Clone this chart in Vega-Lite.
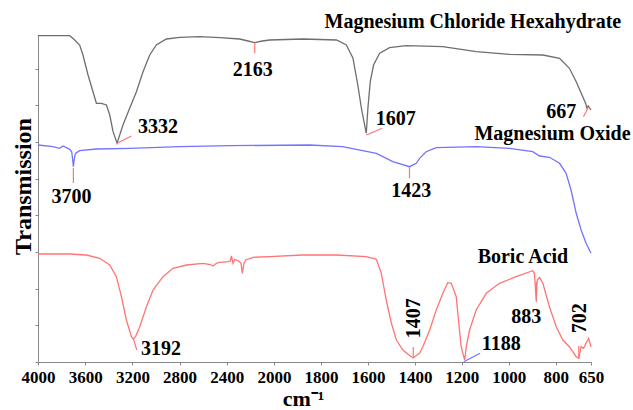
{
  "$schema": "https://vega.github.io/schema/vega-lite/v6.json",
  "width": 553,
  "height": 327,
  "autosize": {"type": "none"},
  "padding": {"left": 38, "top": 35, "right": 42, "bottom": 48},
  "background": "white",
  "config": {"view": {"stroke": null}, "font": "Liberation Serif", "axis": {"grid": false}},
  "datasets": {
    "spectra": [
      {"s":"MgCl2","wn":4000,"t":326.3},{"s":"MgCl2","wn":3731,"t":326.3},{"s":"MgCl2","wn":3689,"t":322},{"s":"MgCl2","wn":3647,"t":317},{"s":"MgCl2","wn":3619,"t":307},{"s":"MgCl2","wn":3576,"t":287},{"s":"MgCl2","wn":3534,"t":270.3},{"s":"MgCl2","wn":3505,"t":258.7},{"s":"MgCl2","wn":3463,"t":258.7},{"s":"MgCl2","wn":3420,"t":257},{"s":"MgCl2","wn":3392,"t":247},{"s":"MgCl2","wn":3364,"t":230.3},{"s":"MgCl2","wn":3330,"t":218.7},{"s":"MgCl2","wn":3280,"t":237},{"s":"MgCl2","wn":3223,"t":253.7},{"s":"MgCl2","wn":3166,"t":270.3},{"s":"MgCl2","wn":3110,"t":290.3},{"s":"MgCl2","wn":3053,"t":307},{"s":"MgCl2","wn":2997,"t":317},{"s":"MgCl2","wn":2912,"t":323},{"s":"MgCl2","wn":2799,"t":324.7},{"s":"MgCl2","wn":2630,"t":325.3},{"s":"MgCl2","wn":2460,"t":324.3},{"s":"MgCl2","wn":2291,"t":323},{"s":"MgCl2","wn":2220,"t":321},{"s":"MgCl2","wn":2163,"t":319.3},{"s":"MgCl2","wn":2100,"t":321},{"s":"MgCl2","wn":2036,"t":322},{"s":"MgCl2","wn":1878,"t":323},{"s":"MgCl2","wn":1734,"t":322},{"s":"MgCl2","wn":1692,"t":317},{"s":"MgCl2","wn":1664,"t":304},{"s":"MgCl2","wn":1643,"t":277},{"s":"MgCl2","wn":1628,"t":254},{"s":"MgCl2","wn":1607,"t":228.7},{"s":"MgCl2","wn":1600,"t":254},{"s":"MgCl2","wn":1590,"t":280.3},{"s":"MgCl2","wn":1576,"t":297},{"s":"MgCl2","wn":1550,"t":308.7},{"s":"MgCl2","wn":1508,"t":314.3},{"s":"MgCl2","wn":1437,"t":316.3},{"s":"MgCl2","wn":1281,"t":315.3},{"s":"MgCl2","wn":1139,"t":310.3},{"s":"MgCl2","wn":997,"t":307.7},{"s":"MgCl2","wn":855,"t":307},{"s":"MgCl2","wn":784,"t":303.7},{"s":"MgCl2","wn":742,"t":293.7},{"s":"MgCl2","wn":713,"t":280.3},{"s":"MgCl2","wn":685,"t":265.3},{"s":"MgCl2","wn":672,"t":258},{"s":"MgCl2","wn":667,"t":254},{"s":"MgCl2","wn":662,"t":256},{"s":"MgCl2","wn":650,"t":252},
      {"s":"MgO","wn":4000,"t":217},{"s":"MgO","wn":3873,"t":215.3},{"s":"MgO","wn":3816,"t":213.7},{"s":"MgO","wn":3788,"t":216},{"s":"MgO","wn":3731,"t":212.7},{"s":"MgO","wn":3714,"t":210},{"s":"MgO","wn":3706,"t":202},{"s":"MgO","wn":3700,"t":195.3},{"s":"MgO","wn":3694,"t":202},{"s":"MgO","wn":3686,"t":207},{"s":"MgO","wn":3680,"t":208.7},{"s":"MgO","wn":3647,"t":211.3},{"s":"MgO","wn":3505,"t":213},{"s":"MgO","wn":3223,"t":213.7},{"s":"MgO","wn":2799,"t":215.3},{"s":"MgO","wn":2375,"t":216.3},{"s":"MgO","wn":1848,"t":217},{"s":"MgO","wn":1708,"t":215.3},{"s":"MgO","wn":1564,"t":208.7},{"s":"MgO","wn":1494,"t":200.3},{"s":"MgO","wn":1423,"t":195.3},{"s":"MgO","wn":1394,"t":198.7},{"s":"MgO","wn":1380,"t":203.7},{"s":"MgO","wn":1352,"t":210.3},{"s":"MgO","wn":1309,"t":214.3},{"s":"MgO","wn":1139,"t":215.3},{"s":"MgO","wn":997,"t":213.7},{"s":"MgO","wn":898,"t":210.3},{"s":"MgO","wn":869,"t":206},{"s":"MgO","wn":827,"t":204.7},{"s":"MgO","wn":784,"t":198.7},{"s":"MgO","wn":756,"t":188.7},{"s":"MgO","wn":735,"t":172},{"s":"MgO","wn":713,"t":148.7},{"s":"MgO","wn":692,"t":132},{"s":"MgO","wn":671,"t":118.7},{"s":"MgO","wn":650,"t":108.7},
      {"s":"Boric","wn":4000,"t":108},{"s":"Boric","wn":3731,"t":108},{"s":"Boric","wn":3590,"t":107},{"s":"Boric","wn":3477,"t":103.7},{"s":"Boric","wn":3392,"t":97},{"s":"Boric","wn":3336,"t":85.3},{"s":"Boric","wn":3293,"t":65.3},{"s":"Boric","wn":3251,"t":42},{"s":"Boric","wn":3208,"t":25.3},{"s":"Boric","wn":3192,"t":23},{"s":"Boric","wn":3175,"t":25},{"s":"Boric","wn":3138,"t":35.3},{"s":"Boric","wn":3081,"t":55.3},{"s":"Boric","wn":3025,"t":72},{"s":"Boric","wn":2941,"t":85.3},{"s":"Boric","wn":2856,"t":93.7},{"s":"Boric","wn":2742,"t":97},{"s":"Boric","wn":2602,"t":98.7},{"s":"Boric","wn":2540,"t":97.5},{"s":"Boric","wn":2517,"t":96},{"s":"Boric","wn":2490,"t":98.5},{"s":"Boric","wn":2474,"t":99.3},{"s":"Boric","wn":2390,"t":100.3},{"s":"Boric","wn":2370,"t":101},{"s":"Boric","wn":2361,"t":106},{"s":"Boric","wn":2347,"t":98.7},{"s":"Boric","wn":2333,"t":102.7},{"s":"Boric","wn":2305,"t":101.3},{"s":"Boric","wn":2280,"t":99},{"s":"Boric","wn":2268,"t":88.7},{"s":"Boric","wn":2256,"t":98},{"s":"Boric","wn":2240,"t":102},{"s":"Boric","wn":2178,"t":104.7},{"s":"Boric","wn":2036,"t":105.3},{"s":"Boric","wn":1878,"t":107},{"s":"Boric","wn":1734,"t":107},{"s":"Boric","wn":1607,"t":105.3},{"s":"Boric","wn":1564,"t":102.7},{"s":"Boric","wn":1543,"t":88.7},{"s":"Boric","wn":1522,"t":62},{"s":"Boric","wn":1500,"t":38.7},{"s":"Boric","wn":1479,"t":22},{"s":"Boric","wn":1451,"t":12},{"s":"Boric","wn":1420,"t":6},{"s":"Boric","wn":1407,"t":4},{"s":"Boric","wn":1394,"t":6.5},{"s":"Boric","wn":1380,"t":8.7},{"s":"Boric","wn":1366,"t":15.3},{"s":"Boric","wn":1337,"t":32},{"s":"Boric","wn":1309,"t":52},{"s":"Boric","wn":1281,"t":68.7},{"s":"Boric","wn":1260,"t":79.3},{"s":"Boric","wn":1245,"t":78.7},{"s":"Boric","wn":1224,"t":65.3},{"s":"Boric","wn":1213,"t":38.7},{"s":"Boric","wn":1203,"t":15.3},{"s":"Boric","wn":1188,"t":2},{"s":"Boric","wn":1181,"t":15.3},{"s":"Boric","wn":1167,"t":32},{"s":"Boric","wn":1139,"t":52},{"s":"Boric","wn":1096,"t":68.7},{"s":"Boric","wn":1040,"t":78.7},{"s":"Boric","wn":969,"t":85.3},{"s":"Boric","wn":898,"t":91.3},{"s":"Boric","wn":891,"t":88.7},{"s":"Boric","wn":883,"t":62},{"s":"Boric","wn":879,"t":82},{"s":"Boric","wn":869,"t":84.7},{"s":"Boric","wn":855,"t":78.7},{"s":"Boric","wn":827,"t":55.3},{"s":"Boric","wn":798,"t":35.3},{"s":"Boric","wn":770,"t":22},{"s":"Boric","wn":742,"t":15.3},{"s":"Boric","wn":713,"t":5.3},{"s":"Boric","wn":702,"t":3.7},{"s":"Boric","wn":692,"t":15.3},{"s":"Boric","wn":682,"t":13.7},{"s":"Boric","wn":671,"t":18.7},{"s":"Boric","wn":660,"t":23.7},{"s":"Boric","wn":650,"t":15.3}
    ],
    "redTicks": [
      {"wn":3330,"t":218.7,"wn2":3208,"t2":226},
      {"wn":2163,"t":319.3,"wn2":2163,"t2":308.7},
      {"wn":1607,"t":227,"wn2":1539,"t2":233.7},
      {"wn":682,"t":245.3,"wn2":660,"t2":255.3},
      {"wn":3700,"t":194,"wn2":3700,"t2":179},
      {"wn":1423,"t":195,"wn2":1423,"t2":183.7},
      {"wn":3192,"t":23.7,"wn2":3163,"t2":12},
      {"wn":1407,"t":5,"wn2":1407,"t2":15},
      {"wn":702,"t":4,"wn2":702,"t2":16},
      {"wn":883,"t":80,"wn2":883,"t2":60}
    ],
    "blueTicks": [
      {"wn":1192,"t":0.3,"wn2":1122,"t2":8.7}
    ],
    "labels": [
      {"txt":"3332","wn":2983,"t":228.7},
      {"txt":"2163","wn":2180,"t":286},
      {"txt":"1607","wn":1481,"t":237},
      {"txt":"667","wn":777,"t":243.7},
      {"txt":"Magnesium Chloride Hexahydrate","wn":1153,"t":333.7},
      {"txt":"Magnesium Oxide","wn":814,"t":222},
      {"txt":"3700","wn":3717,"t":158.7},
      {"txt":"1423","wn":1415,"t":165.3},
      {"txt":"3192","wn":2958,"t":7},
      {"txt":"1188","wn":1032,"t":12},
      {"txt":"883","wn":926,"t":38.7},
      {"txt":"Boric Acid","wn":940,"t":98.7}
    ],
    "vlabels": [
      {"txt":"1407","wn":1380,"t":43.7},
      {"txt":"702","wn":671,"t":43.7}
    ]
  },
  "layer": [
    {
      "data": {"name": "spectra"},
      "mark": {"type": "line", "strokeWidth": 1.3, "clip": false},
      "encoding": {
        "x": {
          "field": "wn", "type": "quantitative",
          "scale": {"domain": [4000, 2000, 650], "range": [0, 236, 553], "zero": false, "nice": false},
          "axis": {
            "values": [4000, 3600, 3200, 2800, 2400, 2000, 1800, 1600, 1400, 1200, 1000, 800, 650],
            "format": "d",
            "title": "cm⁻¹",
            "titleFont": "Liberation Serif", "titleFontSize": 22, "titleFontWeight": "bold", "titleColor": "black",
            "titleX": 265, "titleY": 43, "titleBaseline": "alphabetic", "titleAlign": "center",
            "labelFont": "Liberation Serif", "labelFontSize": 17, "labelFontWeight": "bold", "labelColor": "black",
            "labelPadding": 4, "labelFlush": false, "labelOverlap": false,
            "tickSize": 3, "tickColor": "#888888", "domainColor": "#888888"
          }
        },
        "y": {
          "field": "t", "type": "quantitative",
          "scale": {"domain": [0, 327], "zero": false, "nice": false},
          "axis": {
            "values": [0, 18.34, 36.68, 55.02, 73.36, 91.7, 110.04, 128.38, 146.72, 165.06, 183.4, 201.74, 220.08, 238.42, 256.76, 275.1, 293.44, 311.78],
            "labels": false,
            "title": "Transmission",
            "titleFont": "Liberation Serif", "titleFontSize": 24, "titleFontWeight": "bold", "titleColor": "black",
            "titleAngle": -90, "titleX": -8, "titleY": 151, "titleBaseline": "alphabetic", "titleAlign": "center",
            "tickSize": 3, "tickColor": "#888888", "domainColor": "#888888"
          }
        },
        "color": {
          "field": "s", "type": "nominal",
          "scale": {"domain": ["MgCl2", "MgO", "Boric"], "range": ["#6e6e6e", "#7373ff", "#ff7474"]},
          "legend": null
        }
      }
    },
    {
      "data": {"name": "redTicks"},
      "mark": {"type": "rule", "color": "#ff7474", "strokeWidth": 1.2, "clip": false},
      "encoding": {
        "x": {"field": "wn", "type": "quantitative"},
        "y": {"field": "t", "type": "quantitative"},
        "x2": {"field": "wn2"},
        "y2": {"field": "t2"}
      }
    },
    {
      "data": {"name": "blueTicks"},
      "mark": {"type": "rule", "color": "#7373ff", "strokeWidth": 1.2, "clip": false},
      "encoding": {
        "x": {"field": "wn", "type": "quantitative"},
        "y": {"field": "t", "type": "quantitative"},
        "x2": {"field": "wn2"},
        "y2": {"field": "t2"}
      }
    },
    {
      "data": {"name": "labels"},
      "mark": {"type": "text", "font": "Liberation Serif", "fontSize": 20, "fontWeight": "bold", "color": "black", "align": "center", "baseline": "alphabetic"},
      "encoding": {
        "x": {"field": "wn", "type": "quantitative"},
        "y": {"field": "t", "type": "quantitative"},
        "text": {"field": "txt"}
      }
    },
    {
      "data": {"name": "vlabels"},
      "mark": {"type": "text", "font": "Liberation Serif", "fontSize": 20, "fontWeight": "bold", "color": "black", "align": "center", "baseline": "alphabetic", "angle": -90},
      "encoding": {
        "x": {"field": "wn", "type": "quantitative"},
        "y": {"field": "t", "type": "quantitative"},
        "text": {"field": "txt"}
      }
    }
  ]
}
